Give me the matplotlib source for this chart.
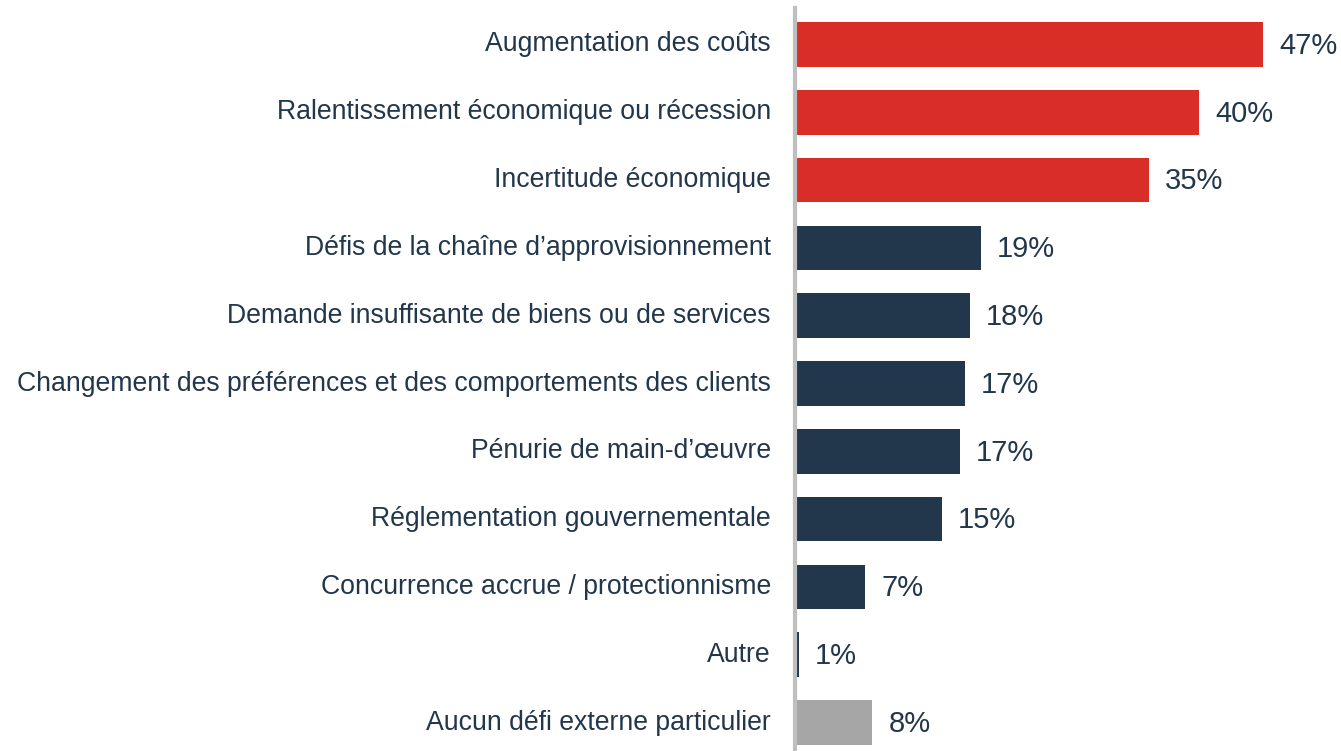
import matplotlib.pyplot as plt
from matplotlib.transforms import ScaledTranslation

# categories and values
categories = ["Augmentation des coûts",
              "Ralentissement économique ou récession",
              "Incertitude économique",
              "Défis de la chaîne d’approvisionnement",
              "Demande insuffisante de biens ou de services",
              "Changement des préférences et des comportements des clients",
              "Pénurie de main-d’œuvre",
              "Réglementation gouvernementale",
              "Concurrence accrue / protectionnisme",
              "Autre",
              "Aucun défi externe particulier"]
values = [47.0, 40.6, 35.5, 18.7, 17.6, 17.1, 16.6, 14.8, 7.1, 0.4, 7.8]
labels = ["47%", "40%", "35%", "19%", "18%", "17%", "17%", "15%", "7%", "1%", "8%"]

red = "#d92d27"
navy = "#22374c"
grey = "#a6a6a6"
colors = [red] * 3 + [navy] * 7 + [grey]

plt.rcParams['font.family'] = ['Liberation Sans', 'DejaVu Sans']

fig = plt.figure(figsize=(13.41, 7.51), dpi=100)
ax = fig.add_axes([0.5925, 0.0, 0.4075, 1.0])

y = list(range(len(categories)))
ax.barh(y, values, height=0.66, color=colors)

# value labels after each bar
for i, v in enumerate(values):
    ax.text(v + 1.6, i + 0.02, labels[i], va="center", ha="left", fontsize=21, color=navy)

ax.set_xlim(0, 54.8)
ax.set_ylim(10.42, -0.656)
ax.set_yticks(y)
ax.set_yticklabels(categories, fontsize=19.2, color=navy)
ax.tick_params(axis="y", length=0, pad=17)
ax.set_xticks([])

# category labels sit a touch above the bar centre
shift = ScaledTranslation(0, 0.03, fig.dpi_scale_trans)
for lab in ax.get_yticklabels():
    lab.set_transform(lab.get_transform() + shift)

for s in ["top", "right", "bottom"]:
    ax.spines[s].set_visible(False)
ax.spines["left"].set_color("#bfbfbf")
ax.spines["left"].set_linewidth(3)
ax.spines["left"].set_bounds(10.42, -0.54)

plt.savefig("out.png", dpi=100)
